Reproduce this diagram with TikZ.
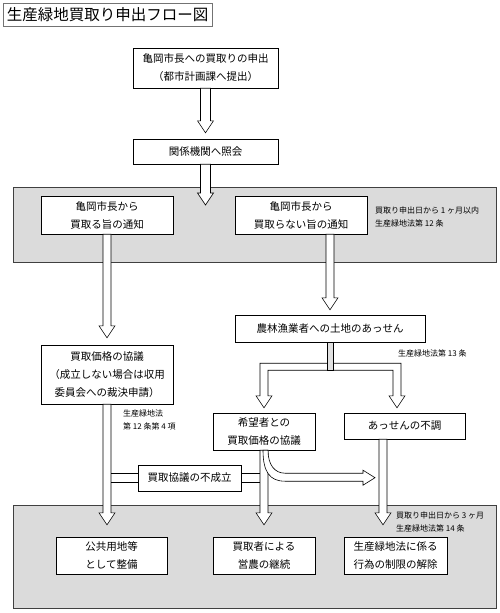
\documentclass[tikz,border=0pt]{standalone}
\usepackage{fontspec}
\setmainfont{Noto Sans CJK JP}
\usepackage{tikz}
\usetikzlibrary{calc}

% hollow arrow pointing down: [shaft half width]{from}{tip}
\newcommand{\blockdown}[3][4pt]{%
  \draw[blockarrow] let \p1=(#2), \p2=(#3) in
    (\x1-#1,\y1) -- (\x1-#1,\y2+12pt) -- (\x1-8pt,\y2+12pt) -- (\x1,\y2)
    -- (\x1+8pt,\y2+12pt) -- (\x1+#1,\y2+12pt) -- (\x1+#1,\y1) -- cycle;}

\begin{document}
\begin{tikzpicture}[x=1pt, y=1pt,
  flowbox/.style={draw, fill=white, align=center, inner sep=0pt, font=\fontsize{10.5}{18}\selectfont},
  notetext/.style={align=left, anchor=west, inner sep=0pt, font=\fontsize{8}{13}\selectfont},
  band/.style={draw=black!75, fill=black!14},
  blockarrow/.style={draw, fill=white, line width=0.6pt},
  bandline/.style={line width=0.6pt}]

\useasboundingbox (0,0) rectangle (500,-613);

% Title
\node[draw=black!55, inner sep=1pt, minimum width=209, minimum height=23, font=\fontsize{15.5}{18}\selectfont] (title) at (107.5,-14.5) {生産緑地買取り申出フロー図};

% Gray bands
\draw[band] (13,-187) rectangle (496,-262);
\draw[band] (13,-505) rectangle (496,-608);

% Request
\node[flowbox, minimum width=145, minimum height=40] (request) at (205.5,-68) {亀岡市長への買取りの申出\\（都市計画課へ提出）};
\node[flowbox, minimum width=145, minimum height=25] (inquiry) at (205.5,-151.5) {関係機関へ照会};
\coordinate (inquirytip) at (205,-205);

% Notices
\node[flowbox, minimum width=132, minimum height=38] (buy) at (107,-215) {亀岡市長から\\買取る旨の通知};
\node[flowbox, minimum width=132, minimum height=38] (nobuy) at (301,-215) {亀岡市長から\\買取らない旨の通知};

% Left branch
\node[flowbox, minimum width=132, minimum height=59] (price) at (107,-374.5) {買取価格の協議\\（成立しない場合は収用\\委員会への裁決申請）};

% Right branch
\node[flowbox, minimum width=190, minimum height=27] (mediate) at (330,-328.5) {農林漁業者への土地のあっせん};
\node[flowbox, minimum width=102, minimum height=37] (talks) at (264,-431.5) {希望者との\\買取価格の協議};
\node[flowbox, minimum width=121, minimum height=26] (failed) at (404.5,-426) {あっせんの不調};

% Results
\node[flowbox, minimum width=111, minimum height=37] (public) at (111.5,-555.5) {公共用地等\\として整備};
\node[flowbox, minimum width=102, minimum height=37] (farming) at (264,-555.5) {買取者による\\営農の継続};
\node[flowbox, minimum width=103, minimum height=37] (release) at (395.5,-555.5) {生産緑地法に係る\\行為の制限の解除};

% Arrows
\blockdown[5pt]{request.south}{[yshift=6pt]inquiry.north}
\blockdown[5pt]{inquiry.south}{inquirytip}
\blockdown{buy.south}{[yshift=7pt]price.north}
\blockdown{nobuy.south -| mediate.north}{[yshift=5pt]mediate.north}
\blockdown{price.south}{[yshift=12pt]public.north}
\blockdown{talks.south}{[yshift=12pt]farming.north}
\blockdown{[xshift=-21.5pt]failed.south}{[yshift=12pt]release.north}

% Split below mediate
\draw[blockarrow] let \p0=(mediate.south), \p1=(talks.north), \p2=([xshift=-7.5pt]failed.north) in
  (\x1-4pt,\y0-21pt) -- (\x2+4pt,\y0-21pt) -- (\x2+4pt,\y2+17pt) -- (\x2+8pt,\y2+17pt) -- (\x2,\y2+5pt)
  -- (\x2-8pt,\y2+17pt) -- (\x2-4pt,\y2+17pt) -- (\x2-4pt,\y0-28pt) -- (\x1+4pt,\y0-28pt)
  -- (\x1+4pt,\y1+17pt) -- (\x1+8pt,\y1+17pt) -- (\x1,\y1+5pt) -- (\x1-8pt,\y1+17pt) -- (\x1-4pt,\y1+17pt) -- cycle;
\draw[line width=0.6pt, fill=black!12] ([xshift=-3pt]mediate.south) rectangle ([xshift=3pt,yshift=-28pt]mediate.south);

% Curved arrow from talks
\draw[blockarrow] let \p1=(talks.south) in
  (\x1-1pt,\y1) .. controls (\x1-1pt,\y1-22pt) and (\x1+6pt,\y1-31pt) .. (\x1+21pt,\y1-31pt)
  -- (\x1+99pt,\y1-31pt) -- (\x1+99pt,\y1-35pt) -- (\x1+111pt,\y1-27.5pt) -- (\x1+99pt,\y1-20pt)
  -- (\x1+99pt,\y1-23pt) -- (\x1+21pt,\y1-23pt) .. controls (\x1+11pt,\y1-23pt) and (\x1+4pt,\y1-15pt) .. (\x1+4pt,\y1) -- cycle;

% Failed negotiation
\draw[bandline] ($(price.south |- 0,-473)+(4,0)$) -- ($(talks.south |- 0,-473)+(-4,0)$);
\draw[bandline] ($(price.south |- 0,-482)+(4,0)$) -- ($(talks.south |- 0,-482)+(-4,0)$);
\node[flowbox, minimum width=103, minimum height=26] (nodeal) at (189.5,-478) {買取協議の不成立};

% Notes
\node[notetext] (note1) at (375,-216.5) {買取り申出日から 1 ヶ月以内\\生産緑地法第 12 条};
\node[notetext] (note2) at (398,-353) {生産緑地法第 13 条};
\node[notetext] (note3) at (123,-419.5) {生産緑地法\\第 12 条第 4 項};
\node[notetext] (note4) at (396,-521.5) {買取り申出日から 3 ヶ月\\生産緑地法第 14 条};

\end{tikzpicture}
\end{document}
